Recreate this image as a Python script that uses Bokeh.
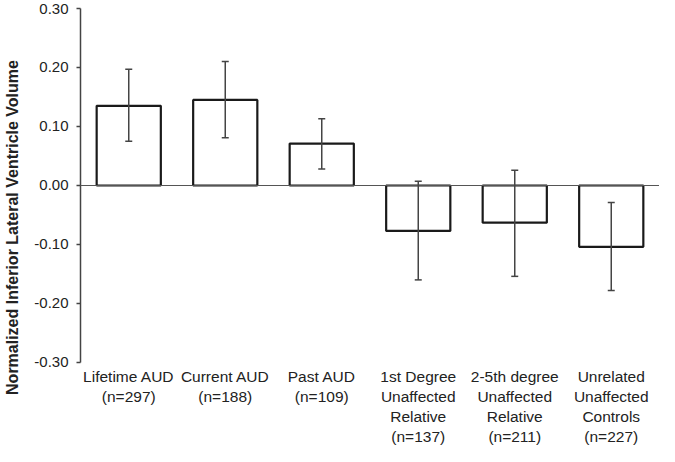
from bokeh.plotting import figure
from bokeh.models import ColumnDataSource, FactorRange, FixedTicker, NumeralTickFormatter, Whisker, TeeHead, Span
from bokeh.core.properties import value
from bokeh.embed import file_html
from bokeh.resources import INLINE

categories = [
    "Lifetime AUD\n(n=297)",
    "Current AUD\n(n=188)",
    "Past AUD\n(n=109)",
    "1st Degree\nUnaffected\nRelative\n(n=137)",
    "2-5th degree\nUnaffected\nRelative\n(n=211)",
    "Unrelated\nUnaffected\nControls\n(n=227)",
]
means = [0.135, 0.145, 0.071, -0.077, -0.063, -0.104]
err_upper = [0.197, 0.210, 0.113, 0.007, 0.026, -0.029]
err_lower = [0.075, 0.081, 0.028, -0.160, -0.154, -0.178]
y_ticks = [-0.3, -0.2, -0.1, 0.0, 0.1, 0.2, 0.3]
y_min, y_max = -0.30, 0.30

FONT = "Liberation Sans"

src = ColumnDataSource(dict(x=categories, top=means, upper=err_upper, lower=err_lower,
                            ly=[y_min] * len(categories)))

p = figure(
    width=659, height=446,
    x_range=FactorRange(factors=categories, range_padding=0),
    y_range=(-0.4424, y_max),
    output_backend="svg", toolbar_location=None,
    min_border_left=80, min_border_right=0, min_border_top=8, min_border_bottom=0,
)
p.outline_line_color = None
p.xgrid.grid_line_color = None
p.ygrid.grid_line_color = None
p.background_fill_color = "white"

p.vbar(x="x", top="top", bottom=0, width=0.665, source=src,
       fill_color="white", line_color="#1a1a1a", line_width=2.2)

p.add_layout(Span(location=0, dimension="width", line_color="#555555", line_width=1.2))

w = Whisker(source=src, base="x", upper="upper", lower="lower",
            line_color="#444444", line_width=1.5, level="overlay",
            upper_head=TeeHead(size=7, line_color="#444444", line_width=1.5),
            lower_head=TeeHead(size=7, line_color="#444444", line_width=1.5))
p.add_layout(w)

# category labels beneath the plotting region
p.text(x="x", y="ly", text="x", source=src, text_align="center", text_baseline="top",
       y_offset=6, text_font=value(FONT), text_font_size="15.5px", text_color="#222222",
       text_line_height=1.17)

# y axis
ya = p.yaxis[0]
ya.bounds = (y_min, y_max)
ya.ticker = FixedTicker(ticks=y_ticks)
ya.formatter = NumeralTickFormatter(format="0.00")
ya.axis_label = "Normalized Inferior Lateral Ventricle Volume"
ya.axis_label_text_font = FONT
ya.axis_label_text_font_style = "bold"
ya.axis_label_text_font_size = "16px"
ya.axis_label_text_color = "#222222"
ya.axis_label_standoff = 10
ya.major_label_text_font = FONT
ya.major_label_text_font_size = "15px"
ya.major_label_text_color = "#222222"
ya.major_label_standoff = 8
ya.axis_line_color = "#444444"
ya.axis_line_width = 1.5
ya.major_tick_line_color = "#444444"
ya.major_tick_line_width = 1.5
ya.major_tick_out = 4
ya.major_tick_in = 0
ya.minor_tick_line_color = None

# x axis hidden (labels drawn as text)
p.xaxis.visible = False

open("out.html", "w").write(file_html(p, INLINE))
